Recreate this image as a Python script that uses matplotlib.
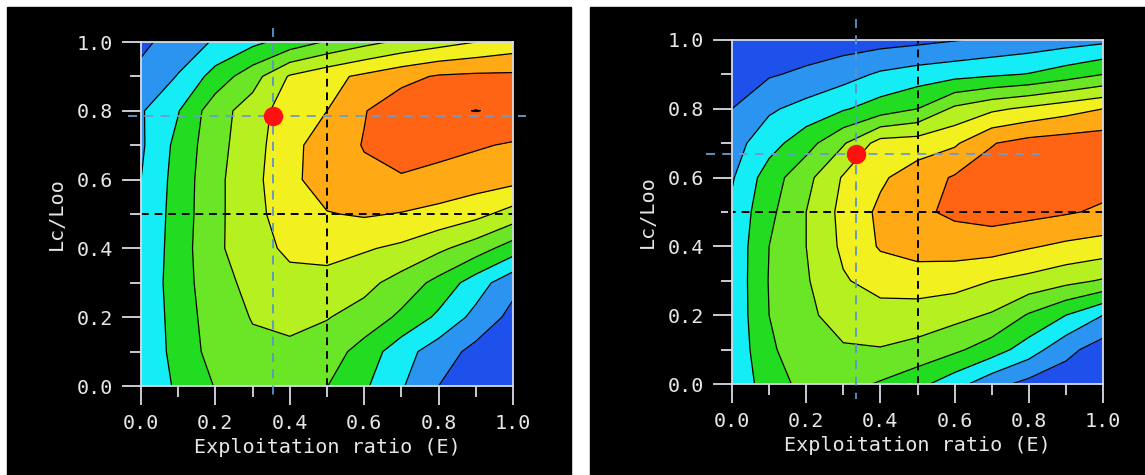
import numpy as np
import matplotlib
matplotlib.use("Agg")
import matplotlib.pyplot as plt
from matplotlib.patches import Rectangle

# grid: exploitation ratio (columns) and Lc/Loo (rows, bottom -> top)
e_grid = [0.0, 0.1, 0.2, 0.3, 0.4, 0.5, 0.6, 0.7, 0.8, 0.9, 1.0]
lc_grid = [0.0, 0.1, 0.2, 0.3, 0.4, 0.5, 0.6, 0.7, 0.8, 0.9, 1.0]

yield_left = [
    [2.30, 3.15, 4.05, 4.50, 4.45, 4.02, 3.15, 2.10, 1.00, 0.50, 0.10],
    [2.25, 3.35, 4.40, 4.80, 4.80, 4.50, 3.60, 2.40, 1.50, 0.70, 0.20],
    [2.20, 3.45, 4.50, 5.05, 5.25, 5.05, 4.60, 3.80, 2.80, 1.70, 0.70],
    [2.20, 3.55, 4.60, 5.30, 5.70, 5.70, 5.30, 4.60, 3.70, 2.50, 1.30],
    [2.15, 3.50, 4.80, 5.60, 6.20, 6.30, 6.10, 5.80, 5.20, 4.50, 3.50],
    [2.10, 3.45, 4.75, 5.70, 6.50, 6.95, 7.10, 6.95, 6.70, 6.30, 5.60],
    [2.00, 3.40, 4.75, 5.70, 6.75, 7.50, 7.80, 7.90, 7.70, 7.50, 7.30],
    [1.85, 3.30, 4.65, 5.60, 6.70, 7.50, 8.05, 8.45, 8.30, 8.10, 7.90],
    [1.90, 2.95, 4.60, 5.45, 6.60, 7.00, 7.95, 8.60, 8.85, 9.02, 8.85],
    [1.30, 2.05, 3.40, 4.60, 6.10, 6.70, 7.20, 7.70, 8.10, 8.20, 8.20],
    [0.75, 1.50, 2.10, 2.75, 3.40, 4.10, 4.70, 5.20, 5.60, 6.00, 6.40],
]

# relative yield
yield_right = [
    [2.15, 3.55, 4.30, 4.35, 3.90, 3.30, 2.40, 1.35, 0.70, 0.40, 0.20],
    [2.20, 3.85, 4.55, 4.90, 4.95, 4.70, 4.20, 3.50, 2.50, 1.30, 0.50],
    [2.25, 4.00, 4.80, 5.40, 5.60, 5.55, 5.30, 4.90, 3.90, 3.00, 2.00],
    [2.25, 4.05, 4.90, 5.90, 6.40, 6.50, 6.40, 6.00, 5.70, 5.30, 4.90],
    [2.25, 4.00, 5.00, 6.20, 7.10, 7.40, 7.45, 7.45, 7.10, 6.80, 6.60],
    [2.20, 3.75, 5.00, 6.30, 7.20, 7.80, 8.20, 8.40, 8.30, 8.10, 7.85],
    [1.90, 3.50, 4.70, 6.10, 6.85, 7.50, 8.10, 8.40, 8.50, 8.50, 8.40],
    [1.60, 2.60, 3.60, 4.90, 6.40, 6.50, 6.85, 7.95, 8.35, 8.50, 8.60],
    [1.00, 1.85, 2.35, 2.90, 3.45, 4.00, 5.20, 5.80, 6.20, 6.60, 7.00],
    [0.50, 0.90, 1.20, 1.60, 2.15, 2.45, 2.65, 2.85, 3.05, 3.50, 4.00],
    [0.20, 0.30, 0.40, 0.50, 0.60, 0.75, 0.95, 1.15, 1.35, 1.55, 1.75],
]

band_levels = [-10, 1, 2, 3, 4, 5, 6, 7, 8, 9, 20]
band_colors = ["#1e50ec", "#2a94f0", "#14ecf6", "#22dc22", "#6ae626",
               "#b6f020", "#f2f01e", "#ffaa14", "#ff6414", "#301010"]

# current operating point (blue dashed cross + red dot)
current_left = (0.354, 0.785)
current_right = (0.333, 0.670)
ref_e, ref_lc = 0.5, 0.5

FG = "#e6e6e6"
FONT = "DejaVu Sans Mono"

fig = plt.figure(figsize=(11.45, 4.75), dpi=100, facecolor="white")
fig.patches.append(Rectangle((7 / 1145, 0), 564 / 1145, 468 / 475,
                             transform=fig.transFigure, color="black", zorder=-10))
fig.patches.append(Rectangle((590 / 1145, 0), 555 / 1145, 468 / 475,
                             transform=fig.transFigure, color="black", zorder=-10))

ax_l = fig.add_axes([141 / 1145, 1 - 386 / 475, 372 / 1145, 344 / 475])
ax_r = fig.add_axes([732 / 1145, 1 - 384 / 475, 371 / 1145, 344 / 475])

E, LC = np.meshgrid(e_grid, lc_grid)


def draw(ax, z, point, h_ext, v_ext):
    z = np.array(z)
    ax.contourf(E, LC, z, levels=band_levels, colors=band_colors)
    ax.contour(E, LC, z, levels=band_levels[1:-1], colors="black", linewidths=0.9)

    # reference lines at E = 0.5 and Lc/Loo = 0.5
    ax.axvline(ref_e, color="black", ls=(0, (4, 3)), lw=1.4)
    ax.plot([h_ext[2], 1.0], [ref_lc, ref_lc], color="black", ls=(0, (4, 3)),
            lw=1.4, clip_on=False)

    # current position
    ax.plot(h_ext[:2], [point[1], point[1]], color="#6b9ccc", ls=(0, (5, 4)),
            lw=1.3, clip_on=False, zorder=4)
    ax.plot([point[0], point[0]], v_ext, color="#5b94cc", ls=(0, (5, 4)),
            lw=1.3, clip_on=False, zorder=4)
    ax.plot(*point, "o", color="#ff1010", ms=14, mec="none", zorder=5, clip_on=False)

    ax.set_xlim(0, 1)
    ax.set_ylim(0, 1)
    ax.set_facecolor("black")
    ax.set_xticks(np.arange(0, 1.01, 0.2))
    ax.set_yticks(np.arange(0, 1.01, 0.2))
    ax.set_xticks(np.arange(0.1, 1.0, 0.2), minor=True)
    ax.set_yticks(np.arange(0.1, 1.0, 0.2), minor=True)
    ax.xaxis.set_major_formatter(matplotlib.ticker.FormatStrFormatter("%.1f"))
    ax.yaxis.set_major_formatter(matplotlib.ticker.FormatStrFormatter("%.1f"))
    ax.tick_params(which="major", direction="out", length=14, width=1.3,
                   color="#d8dce8", labelcolor=FG, labelsize=14.5, pad=6)
    ax.tick_params(which="minor", direction="out", length=8, width=1.3,
                   color="#d8dce8")
    for lab in ax.get_xticklabels() + ax.get_yticklabels():
        lab.set_family(FONT)
    for s in ax.spines.values():
        s.set_color("#d8dce8")
        s.set_linewidth(1.3)
    ax.set_xlabel("Exploitation ratio (E)", color=FG, fontsize=14.5,
                  family=FONT, labelpad=4)
    ax.set_ylabel("Lc/Loo", color=FG, fontsize=14.5, family=FONT, labelpad=8)


draw(ax_l, yield_left, current_left, (-0.035, 1.035, 0.0), (1.04, -0.04))
draw(ax_r, yield_right, current_right, (-0.07, 0.846, -0.012), (1.06, -0.045))

fig.savefig("out.png", dpi=100, facecolor="white")
